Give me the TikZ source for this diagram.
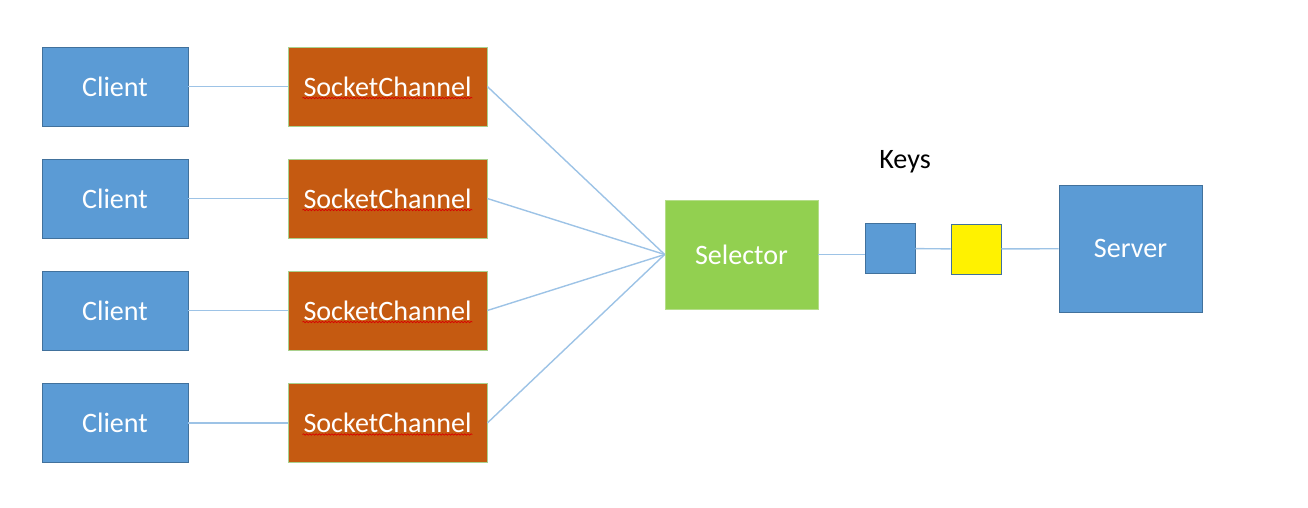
\documentclass[tikz,border=0pt]{standalone}
\usepackage{fontspec}
\setmainfont{Carlito}
\usetikzlibrary{decorations.pathmorphing}
\definecolor{clientblue}{HTML}{5B9BD5}
\definecolor{clientedge}{HTML}{41719C}
\definecolor{chanorange}{HTML}{C55A11}
\definecolor{chanedge}{HTML}{A9D18E}
\definecolor{selgreen}{HTML}{92D050}
\definecolor{seledge}{HTML}{B5DD8A}
\definecolor{linkblue}{HTML}{9DC3E6}
\tikzstyle{clientbox} = [rectangle, minimum width=2.92cm, minimum height=1.58cm, fill=clientblue, draw=clientedge, text=white, font=\fontsize{16}{19}\selectfont]
\tikzstyle{chanbox} = [rectangle, minimum width=3.98cm, minimum height=1.58cm, fill=chanorange, draw=chanedge, text=white, font=\fontsize{16}{19}\selectfont]
\tikzstyle{selbox} = [rectangle, minimum width=3.06cm, minimum height=2.18cm, fill=selgreen, draw=seledge, text=white, font=\fontsize{16}{19}\selectfont]
\tikzstyle{keybox} = [rectangle, minimum width=1cm, minimum height=1cm, draw=clientedge]
\tikzstyle{serverbox} = [rectangle, minimum width=2.86cm, minimum height=2.54cm, fill=clientblue, draw=clientedge, text=white, font=\fontsize{16}{19}\selectfont]
\tikzstyle{link} = [draw=linkblue, line width=0.8pt]
\tikzstyle{squiggle} = [draw=red!85!black, line width=0.4pt, decorate, decoration={snake, amplitude=0.4pt, segment length=1.8pt}]

\begin{document}
\begin{tikzpicture}[x=0.02cm, y=-0.02cm]
    \useasboundingbox (0,0) rectangle (1308,507);

    \node (client1) [clientbox] at (115,86.5) {Client};
    \node (client2) [clientbox] at (115,198.5) {Client};
    \node (client3) [clientbox] at (115,310.5) {Client};
    \node (client4) [clientbox] at (115,423) {Client};

    \node (chan1) [chanbox] at (387.5,86.5) {SocketChannel};
    \node (chan2) [chanbox] at (387.5,198.5) {SocketChannel};
    \node (chan3) [chanbox] at (387.5,310.5) {SocketChannel};
    \node (chan4) [chanbox] at (387.5,423) {SocketChannel};

    % spell-check underline
    \draw[squiggle] ([xshift=-1.7cm,yshift=-0.23cm]chan1.center) -- ++(3.4cm,0);
    \draw[squiggle] ([xshift=-1.7cm,yshift=-0.23cm]chan2.center) -- ++(3.4cm,0);
    \draw[squiggle] ([xshift=-1.7cm,yshift=-0.23cm]chan3.center) -- ++(3.4cm,0);
    \draw[squiggle] ([xshift=-1.7cm,yshift=-0.23cm]chan4.center) -- ++(3.4cm,0);

    \node (selector) [selbox] at (741.5,254.5) {Selector};
    \node (key1) [keybox, fill=clientblue] at (890,248.5) {};
    \node (key2) [keybox, fill=yellow] at (976,249) {};
    \node (keys) [font=\fontsize{16}{19}\selectfont] at (905,162) {Keys};
    \node (server) [serverbox] at (1130.5,248.5) {Server};

    \draw[link] (client1) -- (chan1);
    \draw[link] (client2) -- (chan2);
    \draw[link] (client3) -- (chan3);
    \draw[link] (client4) -- (chan4);

    \draw[link] (chan1.east) -- (selector.west);
    \draw[link] (chan2.east) -- (selector.west);
    \draw[link] (chan3.east) -- (selector.west);
    \draw[link] (chan4.east) -- (selector.west);

    \draw[link] (selector.east) -- (selector.east -| key1.west);
    \draw[link] (key1) -- (key2);
    \draw[link] (key2) -- (server);
\end{tikzpicture}
\end{document}
